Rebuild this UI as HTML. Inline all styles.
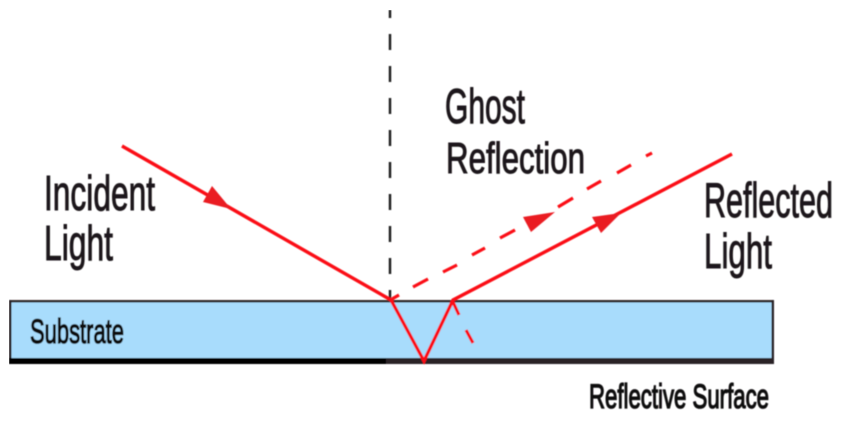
<!DOCTYPE html>
<html>
<head>
<meta charset="utf-8">
<style>
html,body{margin:0;padding:0;background:#fff;width:866px;height:423px;overflow:hidden}
svg{display:block}
text{font-family:"Liberation Sans",sans-serif;fill:#1c171a;stroke:#1c171a;stroke-width:1}
text.sm{fill:#0d0a0c;stroke:#0d0a0c;stroke-width:1.300}
</style>
</head>
<body>
<svg width="866" height="423" viewBox="0 0 866 423" xmlns="http://www.w3.org/2000/svg">
<defs><filter id="s" x="0" y="0" width="100%" height="100%"><feGaussianBlur stdDeviation="0.4"/></filter></defs>
<rect width="866" height="423" fill="#fff"/>
<g filter="url(#s)">
<!-- substrate -->
<rect x="10" y="301" width="763" height="60" fill="#a8dcfc"/>
<rect x="9" y="300" width="765" height="2.500" fill="#33292c"/>
<rect x="9" y="300" width="2.500" height="64" fill="#2a2428"/>
<rect x="771.500" y="300" width="2.500" height="64" fill="#2a2428"/>
<rect x="9" y="358" width="377" height="6" fill="#050505"/>
<rect x="386" y="358" width="388" height="6" fill="#2a2225"/>
<!-- normal -->
<path d="M390 10V18M390 34V50M390 66V82M390 98V114M390 130V146M390 162V178M390 194V210M390 226V242M390 258V274M390 290V301" stroke="#1f1a1d" stroke-width="2.400" fill="none"/>
<!-- rays -->
<g stroke="#fb0a12" stroke-width="3.400" fill="none">
<path d="M122 146L391 300L424 361L453 300L732 154"/>
<path stroke-width="3.200" d="M392 299L399 295M413 287L428 279M443 272L457 265M472 255L485 248M500 238L515 230M558 207L573 198M587 189L601 181M617 173L631 165M646 156L652 153"/>
<path stroke-width="3.200" d="M453 302L459 315M466 330L473 343"/>
</g>
<g fill="#ea1c24">
<polygon points="212,186 203,202 231,209"/>
<polygon points="555,212 523,217 531,232"/>
<polygon points="621,213 592,217 601,233"/>
</g>
<!-- labels -->
<text x="44" y="210" font-size="49" textLength="111" lengthAdjust="spacingAndGlyphs">Incident</text>
<text x="44" y="260" font-size="49" textLength="69" lengthAdjust="spacingAndGlyphs">Light</text>
<text x="445" y="123" font-size="49" textLength="80" lengthAdjust="spacingAndGlyphs">Ghost</text>
<text x="446" y="173" font-size="44" textLength="139" lengthAdjust="spacingAndGlyphs">Reflection</text>
<text x="704" y="217" font-size="49" textLength="129" lengthAdjust="spacingAndGlyphs">Reflected</text>
<text x="704" y="268" font-size="49" textLength="68" lengthAdjust="spacingAndGlyphs">Light</text>
<text class="sm" x="30" y="343" font-size="34" textLength="94" lengthAdjust="spacingAndGlyphs">Substrate</text>
<text class="sm" x="589" y="408" font-size="34" textLength="180" lengthAdjust="spacingAndGlyphs">Reflective Surface</text>
</g>
</svg>
</body>
</html>
